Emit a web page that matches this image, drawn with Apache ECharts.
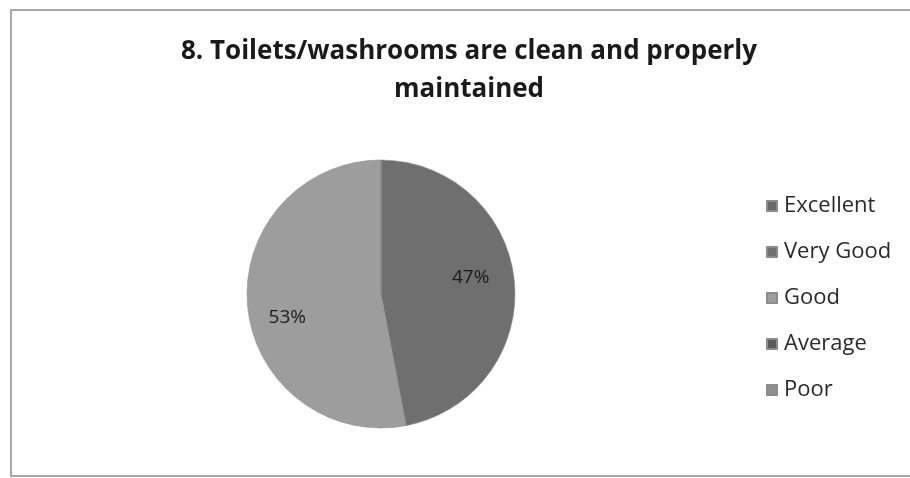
<!DOCTYPE html>
<html>
<head>
<meta charset="utf-8">
<script src="https://cdn.jsdelivr.net/npm/echarts@6/dist/echarts.min.js"></script>
<style>
html,body{margin:0;padding:0;background:#fff;overflow:hidden;}
#frame{position:absolute;left:10px;top:9px;width:940px;height:468px;border:2px solid #a8a8a8;border-right:none;box-sizing:border-box;}
#c{position:absolute;left:0;top:0;width:910px;height:478px;}
</style>
</head>
<body>
<div id="frame"></div>
<div id="c"></div>
<script>
const titleText = '8. Toilets/washrooms are clean and properly\nmaintained';
const categories = ['Excellent', 'Very Good', 'Good', 'Average', 'Poor'];
const values = [0, 47, 53, 0, 0];
const colors = ['#686868', '#6f6f6f', '#9d9d9d', '#5a5a5a', '#8e8e8e'];
const labelOffsets = [[0,0],[20,-10],[-24,17],[0,0],[0,0]];

const chart = echarts.init(document.getElementById('c'));
chart.setOption({
  animation: false,
  color: colors,
  title: {
    text: titleText,
    left: 464, top: 28, textAlign: 'center',
    textStyle: {fontFamily: 'Open Sans', fontWeight: 'bold', fontSize: 26, color: '#1a1a1a', lineHeight: 38}
  },
  legend: {
    orient: 'vertical',
    left: 761, top: 186,
    itemWidth: 10, itemHeight: 10, itemGap: 16,
    icon: 'rect',
    textStyle: {fontFamily: 'Open Sans', fontSize: 22, color: '#2a2a2a', padding: [0,0,0,2], lineHeight: 30},
    data: categories
  },
  series: [{
    type: 'pie',
    center: [381, 294],
    radius: 134,
    startAngle: 90,
    clockwise: true,
    minAngle: 0,
    stillShowZeroSum: false,
    data: categories.map((n, i) => ({
      name: n, value: values[i],
      label: {show: values[i] > 0, offset: labelOffsets[i]}
    })),
    itemStyle: {borderColor: '#8a8a8a', borderWidth: 0.5},
    label: {
      position: 'inside',
      formatter: p => Math.round(p.percent) + '%',
      fontFamily: 'Open Sans', fontSize: 19, color: '#1a1a1a'
    },
    labelLine: {show: false},
    emphasis: {disabled: true}
  }]
});
</script>
</body>
</html>
